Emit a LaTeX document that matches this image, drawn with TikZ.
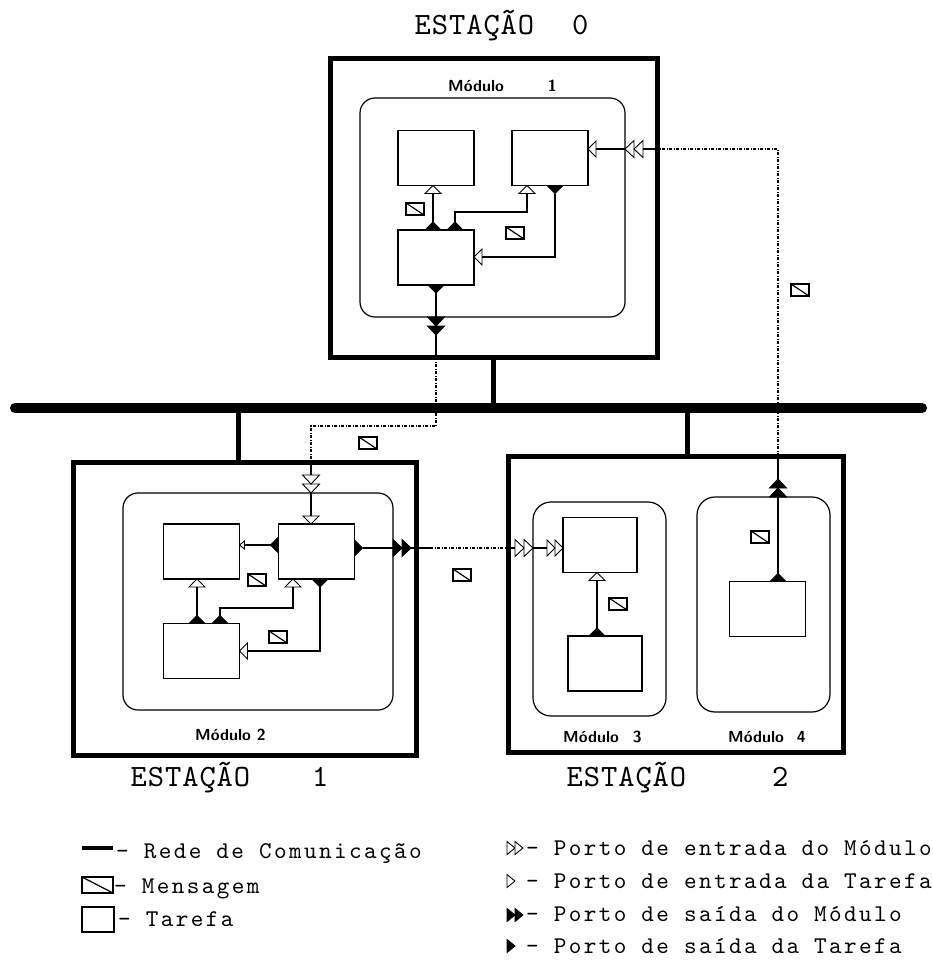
\documentclass[tikz,border=0pt]{standalone}
\usepackage{fontspec}
\usepackage{tikz}
\usetikzlibrary{positioning,shapes.geometric}
\newfontfamily\plotfont[LetterSpace=10]{lmmono10-regular.otf}
\newfontfamily\titlefont[LetterSpace=3]{lmmono10-regular.otf}
\tikzset{
  % --- stations, modules, tasks ----------------------------------------------
  station/.style={rectangle,draw,line width=5pt,inner sep=0pt,outer sep=0pt},
  module/.style={rectangle,draw,rounded corners=15pt,line width=1.2pt,
                 inner sep=0pt,outer sep=0pt},
  task/.style={rectangle,draw,line width=1.4pt,inner sep=0pt,outer sep=0pt,
               minimum width=76pt,minimum height=55pt},
  msg/.style={rectangle,draw,line width=1.2pt,inner sep=0pt,
              minimum width=18pt,minimum height=12pt,
              path picture={\draw[line width=1.2pt]
                (path picture bounding box.north west) --
                (path picture bounding box.south east);}},
  % --- ports (width = base, height = apex to base) ---------------------------
  port/.style={isosceles triangle,isosceles triangle stretches,draw,
               line width=0.9pt,inner sep=0pt,outer sep=0pt,
               minimum width=16pt,minimum height=8pt},
  tin/.style={port,fill=white},
  tout/.style={port,fill=black},
  modin/.style={port,fill=white,minimum width=17pt,minimum height=9pt},
  modout/.style={port,fill=black,minimum width=17pt,minimum height=9pt},
  legport/.style={minimum width=13pt,minimum height=8pt,anchor=lower side},
  % --- links -----------------------------------------------------------------
  flink/.style={line width=1.3pt},
  msgline/.style={line width=1.1pt,dash pattern=on 3pt off 1.5pt on 1pt off 1.5pt},
  bus/.style={line width=10pt,line cap=round},
  stlink/.style={line width=5pt},
  % --- labels ----------------------------------------------------------------
  modlab/.style={font=\sffamily\bfseries\fontsize{16}{16}\selectfont,
                 inner sep=0pt,anchor=base west},
  stlab/.style={font=\titlefont\fontsize{31}{31}\selectfont,
                inner sep=0pt,anchor=base west},
  leglab/.style={font=\plotfont\fontsize{24}{24}\selectfont,
                 inner sep=0pt,anchor=base west},
}

\begin{document}
\begin{tikzpicture}[x=1pt,y=-1pt]
  \useasboundingbox (0,0) rectangle (933,972);

  % network
  \coordinate (busL) at (15,408);
  \coordinate (busR) at (922,408);
  \draw[bus] (busL) -- (busR);

  % ---------------- station 0
  \node[station,minimum width=327pt,minimum height=299pt] (st0) at (493.5,207.5) {};
  \node[module,minimum width=265pt,minimum height=219pt] (m1) at (492.5,207.5) {};
  \node[task] (t1) at (436,158)   {};
  \node[task] (t2) at (550,158)   {};
  \node[task] (t3) at (436,257.5) {};

  \node[tout,rotate=90,anchor=lower side]  (o3a) at (t3.north -| 433,0) {};
  \node[tout,rotate=90,anchor=lower side]  (o3b) at (t3.north -| 455,0) {};
  \node[tout,rotate=270,anchor=lower side] (o3c) at (t3.south -| 436,0) {};
  \node[tout,rotate=270,anchor=lower side] (o2a) at (t2.south -| 555,0) {};
  \node[tin,rotate=90,anchor=apex]  (i1a) at (t1.south -| 433,0) {};
  \node[tin,rotate=90,anchor=apex]  (i2a) at (t2.south -| 527,0) {};
  \node[tin,rotate=180,anchor=apex] (i2b) at (t2.east |- 0,149) {};
  \node[tin,rotate=180,anchor=apex] (i3a) at (t3.east |- 0,257) {};
  \node[modin,rotate=180,anchor=apex] (mi1a) at (m1.east |- 0,149) {};
  \node[modin,rotate=180,anchor=apex] (mi1b) at (mi1a.lower side) {};
  \node[modout,rotate=270,anchor=lower side] (mo1a) at (m1.south -| 436,0) {};
  \node[modout,rotate=270,anchor=lower side] (mo1b) at (mo1a.apex) {};

  \draw[flink] (o3a.apex) -- (i1a.lower side);
  \draw[flink] (o3b.apex) -- (455,212) -| (i2a.lower side);
  \draw[flink] (o2a.apex) |- (i3a.lower side);
  \draw[flink] (mi1a.apex) -- (i2b.lower side);
  \draw[flink] (o3c.apex) -- (mo1a.lower side);
  \draw[flink] (mo1b.apex) -- (mo1b.apex |- st0.south);
  \draw[flink] (mi1b.lower side) -- (st0.east |- mi1b.lower side);

  \node[msg] (g1) at (415,209) {};
  \node[msg] (g2) at (515,233) {};
  \node[modlab] (lm1) at (448,91) {Módulo\hspace{44pt}1};
  \node[stlab] (ti0) at (414.5,34) {ESTAÇÃO\hspace{38pt}0};

  % ---------------- station 1
  \node[station,minimum width=343pt,minimum height=293pt] (st1) at (244.5,608.5) {};
  \node[module,minimum width=270pt,minimum height=217pt] (m2) at (258,601.5) {};
  \node[task] (t4) at (201.5,551.5) {};
  \node[task] (t5) at (316.5,551.5) {};
  \node[task] (t6) at (201.5,651)   {};

  \node[tin,rotate=270,anchor=apex] (i5a) at (t5.north -| 311,0) {};
  \node[modin,rotate=270,anchor=apex] (mi2a) at (m2.north -| 311,0) {};
  \node[modin,rotate=270,anchor=apex] (mi2b) at (mi2a.lower side) {};
  \node[tout,rotate=180,anchor=lower side] (o5a) at (t5.west |- 0,545) {};
  \node[tin,rotate=180,anchor=apex,minimum width=8pt,minimum height=5pt]
       (i4a) at (t4.east |- 0,545) {};
  \node[tout,anchor=lower side] (o5b) at (t5.east |- 0,548) {};
  \node[modout,anchor=lower side] (mo2a) at (m2.east |- 0,548) {};
  \node[modout,anchor=lower side] (mo2b) at (mo2a.apex) {};
  \node[tout,rotate=90,anchor=lower side]  (o6a) at (t6.north -| 197,0) {};
  \node[tout,rotate=90,anchor=lower side]  (o6b) at (t6.north -| 220,0) {};
  \node[tout,rotate=270,anchor=lower side] (o5c) at (t5.south -| 320,0) {};
  \node[tin,rotate=90,anchor=apex]  (i4b) at (t4.south -| 197,0) {};
  \node[tin,rotate=90,anchor=apex]  (i5b) at (t5.south -| 293,0) {};
  \node[tin,rotate=180,anchor=apex] (i6a) at (t6.east |- 0,651) {};

  \coordinate (cut12) at (430,548);
  \draw[flink] (mi2a.apex) -- (i5a.lower side);
  \draw[flink] (mi2b.lower side) -- (mi2b.lower side |- st1.north);
  \draw[flink] (o5a.apex) -- (i4a.lower side);
  \draw[flink] (o5b.apex) -- (mo2a.lower side);
  \draw[flink] (mo2b.apex) -- (cut12);
  \draw[flink] (o6a.apex) -- (i4b.lower side);
  \draw[flink] (o6b.apex) -- (220,608) -| (i5b.lower side);
  \draw[flink] (o5c.apex) |- (i6a.lower side);

  \node[msg] (g3) at (257,580) {};
  \node[msg] (g4) at (278,637) {};
  \node[modlab] (lm2) at (195,740) {Módulo 2};
  \node[stlab] (ti1) at (130.5,786) {ESTAÇÃO\hspace{62pt}1};

  % ---------------- station 2
  \node[station,minimum width=335pt,minimum height=296pt] (st2) at (675.5,604) {};
  \node[module,rounded corners=18pt,minimum width=133pt,minimum height=214pt]
       (m3) at (599.5,609) {};
  \node[module,rounded corners=18pt,minimum width=133pt,minimum height=215pt]
       (m4) at (763.5,604.5) {};
  \node[task,minimum width=74pt] (t7) at (600,545)   {};
  \node[task,minimum width=74pt] (t8) at (605,663.5) {};
  \node[task] (t9) at (767.5,609) {};

  \node[modin,anchor=apex] (mi3a) at (m3.west |- 0,548) {};
  \node[modin,anchor=apex] (mi3b) at (mi3a.lower side) {};
  \node[tin,anchor=apex] (i7a) at (t7.west |- 0,548) {};
  \node[tin,anchor=apex] (i7b) at (i7a.lower side) {};
  \node[tin,rotate=90,anchor=apex] (i7c) at (t7.south -| 597,0) {};
  \node[tout,rotate=90,anchor=lower side] (o8a) at (t8.north -| 597,0) {};
  \node[tout,rotate=90,anchor=lower side] (o9a) at (t9.north -| 778,0) {};
  \node[modout,rotate=90,anchor=lower side] (mo4a) at (m4.north -| 778,0) {};
  \node[modout,rotate=90,anchor=lower side] (mo4b) at (mo4a.apex) {};

  \draw[flink] (st2.west |- cut12) -- (mi3b.lower side);
  \draw[flink] (mi3a.apex) -- (i7b.lower side);
  \draw[flink] (o8a.apex) -- (i7c.lower side);
  \draw[flink] (o9a.apex) -- (mo4a.lower side);
  \draw[flink] (mo4b.apex) -- (mo4b.apex |- st2.north);

  \node[msg] (g5) at (618,604) {};
  \node[msg] (g6) at (760,537) {};
  \node[modlab] (lm3) at (563,742) {Módulo\hspace{14pt}3};
  \node[modlab] (lm4) at (728,742) {Módulo\hspace{13pt}4};
  \node[stlab] (ti2) at (566.5,786) {ESTAÇÃO\hspace{86pt}2};

  % station links to the bus
  \draw[stlink] (st0.south) -- (st0.south |- busL);
  \draw[stlink] (st1.north -| 238,0) -- (busL -| 238,0);
  \draw[stlink] (st2.north -| 687,0) -- (busL -| 687,0);

  % messages across the network
  \draw[msgline] (mo1b.apex |- st0.south) -- (436,426) -| (mi2b.lower side |- st1.north);
  \draw[msgline] (cut12) -- (st2.west |- cut12);
  \draw[msgline] (mo4b.apex |- st2.north) |- (st0.east |- mi1b.lower side);
  \node[msg] (g7) at (368,443) {};
  \node[msg] (g8) at (462,575) {};
  \node[msg] (g9) at (800,290) {};

  % ---------------- legend
  \node[fill=black,inner sep=0pt,minimum width=31pt,minimum height=4pt]
       (lgbus) at (97.5,848) {};
  \node[leglab] (lgbust) at (116,858) {- Rede de Comunicação};
  \node[msg,minimum width=31pt,minimum height=16pt] (lgmsg) at (97.5,885) {};
  \node[leglab] (lgmsgt) at (114,893) {- Mensagem};
  \node[task,minimum width=32pt,minimum height=25pt] (lgtask) at (98,919.5) {};
  \node[leglab] (lgtaskt) at (118,926) {- Tarefa};

  \node[tin,legport]  (lgmi1) at (507,848) {};
  \node[tin,legport]  (lgmi2) at (lgmi1.apex) {};
  \node[leglab] (lgmit) at (526,855) {- Porto de entrada do Módulo};
  \node[tin,legport]  (lgti)  at (507,881) {};
  \node[leglab] (lgtit) at (526,888) {- Porto de entrada da Tarefa};
  \node[tout,legport] (lgmo1) at (507,915) {};
  \node[tout,legport] (lgmo2) at (lgmo1.apex) {};
  \node[leglab] (lgmot) at (526,921) {- Porto de saída do Módulo};
  \node[tout,legport] (lgto)  at (507,946) {};
  \node[leglab] (lgtot) at (526,953) {- Porto de saída da Tarefa};
\end{tikzpicture}
\end{document}
